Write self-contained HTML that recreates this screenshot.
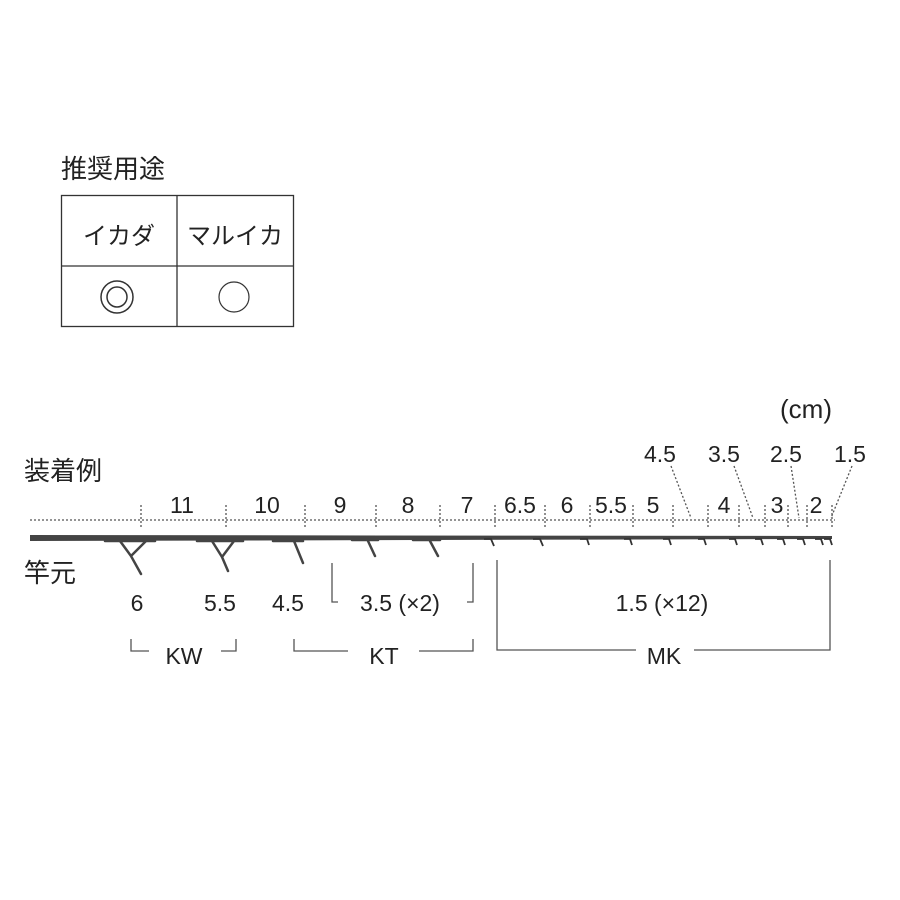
<!DOCTYPE html>
<html><head><meta charset="utf-8"><style>
html,body{margin:0;padding:0;background:#fff;}
svg{display:block;}
text{font-family:"Liberation Sans","Noto Sans CJK JP",sans-serif;fill:#222;}
</style></head><body>
<svg width="900" height="900" viewBox="0 0 900 900" xmlns="http://www.w3.org/2000/svg">
<text x="61" y="178" font-size="26">推奨用途</text>
<rect x="61.5" y="195.5" width="232" height="131" fill="none" stroke="#333" stroke-width="1.3"/>
<line x1="177" y1="195" x2="177" y2="326" stroke="#333" stroke-width="1.3"/>
<line x1="61" y1="266" x2="293" y2="266" stroke="#333" stroke-width="1.3"/>
<text x="119" y="244" font-size="24" text-anchor="middle">イカダ</text>
<text x="235" y="244" font-size="24" text-anchor="middle">マルイカ</text>
<circle cx="117" cy="297" r="16" fill="none" stroke="#333" stroke-width="1.5"/>
<circle cx="117" cy="297" r="10" fill="none" stroke="#333" stroke-width="1.5"/>
<circle cx="234" cy="297" r="15" fill="none" stroke="#333" stroke-width="1.2"/>

<text x="780" y="418" font-size="26">(cm)</text>
<text x="24" y="480" font-size="26">装着例</text>
<text x="24" y="582" font-size="26">竿元</text>

<line x1="30" y1="520" x2="835" y2="520" stroke="#555" stroke-width="1.3" stroke-dasharray="2,2"/>
<g stroke="#555" stroke-width="1.3" stroke-dasharray="2,2">
<line x1="141" y1="505" x2="141" y2="528"/>
<line x1="226" y1="505" x2="226" y2="528"/>
<line x1="305" y1="505" x2="305" y2="528"/>
<line x1="376" y1="505" x2="376" y2="528"/>
<line x1="440" y1="505" x2="440" y2="528"/>
<line x1="495" y1="505" x2="495" y2="528"/>
<line x1="545" y1="505" x2="545" y2="528"/>
<line x1="590" y1="505" x2="590" y2="528"/>
<line x1="633" y1="505" x2="633" y2="528"/>
<line x1="673" y1="505" x2="673" y2="528"/>
<line x1="708" y1="505" x2="708" y2="528"/>
<line x1="739" y1="505" x2="739" y2="528"/>
<line x1="765" y1="505" x2="765" y2="528"/>
<line x1="788" y1="505" x2="788" y2="528"/>
<line x1="807" y1="505" x2="807" y2="528"/>
<line x1="832" y1="505" x2="832" y2="528"/>
<line x1="671" y1="466" x2="691" y2="518"/>
<line x1="734" y1="466" x2="753" y2="518"/>
<line x1="791" y1="466" x2="799" y2="518"/>
<line x1="852" y1="466" x2="831" y2="518"/>
</g>
<g font-size="23" text-anchor="middle">
<text x="182" y="513">11</text>
<text x="267" y="513">10</text>
<text x="340" y="513">9</text>
<text x="408" y="513">8</text>
<text x="467" y="513">7</text>
<text x="520" y="513">6.5</text>
<text x="567" y="513">6</text>
<text x="611" y="513">5.5</text>
<text x="653" y="513">5</text>
<text x="724" y="513">4</text>
<text x="777" y="513">3</text>
<text x="816" y="513">2</text>
<text x="660" y="462">4.5</text>
<text x="724" y="462">3.5</text>
<text x="786" y="462">2.5</text>
<text x="850" y="462">1.5</text>
</g>

<polygon points="30,535 832,536 832,539 30,541" fill="#444"/>
<g stroke="#444" stroke-width="2.5" fill="none" stroke-linecap="round">
<line x1="105" y1="541" x2="155" y2="541"/>
<path d="M120,541 L131,556 L141,574 M146,541 L131,556"/>
<line x1="197" y1="541" x2="243" y2="541"/>
<path d="M212,541 L222,557 L228,571 M234,541 L222,557"/>
<line x1="273" y1="541" x2="303" y2="541"/>
<path d="M294,541 L303,563"/>
<line x1="352" y1="540" x2="378" y2="540"/>
<path d="M368,541 L375,556"/>
<line x1="413" y1="540" x2="440" y2="540"/>
<path d="M430,541 L438,556"/>
</g>
<g stroke="#333" stroke-width="1.8" fill="none">
<path d="M484,539 L491,539 L494,546"/>
<path d="M533,539 L540,539 L543,546"/>
<path d="M580,539 L587,539 L589,545"/>
<path d="M624,539 L630,539 L632,545"/>
<path d="M663,539 L669,539 L671,545"/>
<path d="M698,539 L704,539 L706,545"/>
<path d="M729,539 L735,539 L737,545"/>
<path d="M755,539 L761,539 L763,545"/>
<path d="M777,539 L783,539 L785,545"/>
<path d="M797,539 L803,539 L805,545"/>
<path d="M815,539 L821,539 L823,545"/>
<path d="M824,539 L830,539 L832,545"/>
</g>

<g font-size="23" text-anchor="middle">
<text x="137" y="611">6</text>
<text x="220" y="611">5.5</text>
<text x="288" y="611">4.5</text>
<text x="400" y="611">3.5 (×2)</text>
<text x="662" y="611">1.5 (×12)</text>
<text x="184" y="664">KW</text>
<text x="384" y="664">KT</text>
<text x="664" y="664">MK</text>
</g>
<g stroke="#555" stroke-width="1.3" fill="none">
<path d="M332,563 L332,602 L338,602"/>
<path d="M473,563 L473,602 L467,602"/>
<path d="M497,560 L497,650 L636,650"/>
<path d="M830,560 L830,650 L694,650"/>
<path d="M131,639 L131,651 L149,651"/>
<path d="M236,639 L236,651 L221,651"/>
<path d="M294,639 L294,651 L348,651"/>
<path d="M473,639 L473,651 L419,651"/>
</g>
</svg>
</body></html>
